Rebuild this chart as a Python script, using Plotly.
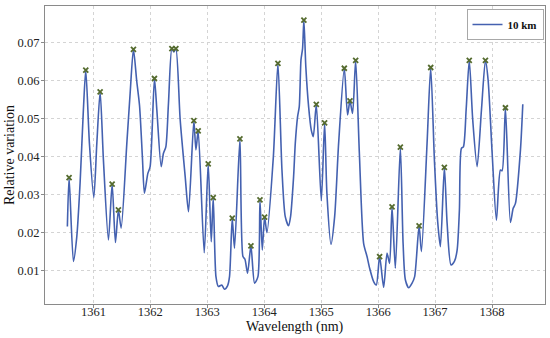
import plotly.graph_objects as go

wavelength = [
    1360.543, 1360.573, 1360.649, 1360.708, 1360.766, 1360.824, 1360.866, 1360.93, 1361.007, 1361.06,
    1361.118, 1361.176, 1361.264, 1361.329, 1361.387, 1361.439, 1361.487, 1361.587, 1361.645, 1361.703,
    1361.76, 1361.81, 1361.86, 1361.896, 1361.956, 1361.996, 1362.072, 1362.114, 1362.19, 1362.23,
    1362.272, 1362.318, 1362.378, 1362.413, 1362.448, 1362.524, 1362.612, 1362.67, 1362.764, 1362.80,
    1362.84, 1362.946, 1363.016, 1363.069, 1363.104, 1363.152, 1363.194, 1363.254, 1363.30, 1363.355,
    1363.39, 1363.438, 1363.478, 1363.573, 1363.626, 1363.661, 1363.707, 1363.766, 1363.83, 1363.889,
    1363.925, 1363.965, 1364.006, 1364.047, 1364.16, 1364.24, 1364.311, 1364.369, 1364.427, 1364.462,
    1364.515, 1364.545, 1364.585, 1364.615, 1364.645, 1364.673, 1364.696, 1364.73, 1364.779, 1364.826,
    1364.861, 1364.914, 1365.002, 1365.06, 1365.10, 1365.172, 1365.236, 1365.306, 1365.406, 1365.463,
    1365.505, 1365.551, 1365.605, 1365.67, 1365.745, 1365.805, 1365.851, 1365.921, 1365.968, 1366.026,
    1366.097, 1366.156, 1366.201, 1366.244, 1366.302, 1366.39, 1366.438, 1366.478, 1366.536, 1366.596,
    1366.641, 1366.719, 1366.76, 1366.859, 1366.923, 1366.988, 1367.045, 1367.093, 1367.163, 1367.211,
    1367.28, 1367.339, 1367.387, 1367.427, 1367.462, 1367.497, 1367.545, 1367.60, 1367.661, 1367.738,
    1367.814, 1367.884, 1367.931, 1368.002, 1368.077, 1368.147, 1368.177, 1368.235, 1368.323, 1368.371,
    1368.411, 1368.499, 1368.54,
]
variation = [
    0.0216, 0.0345, 0.0124, 0.0189, 0.0330, 0.0523, 0.0628, 0.0435, 0.0292, 0.0435,
    0.0571, 0.0391, 0.0181, 0.0328, 0.0174, 0.0260, 0.0212, 0.0435, 0.0567, 0.0683,
    0.0600, 0.0535, 0.0400, 0.0304, 0.0356, 0.0374, 0.0606, 0.0523, 0.0374, 0.0409,
    0.0426, 0.0540, 0.0685, 0.0676, 0.0685, 0.0497, 0.0347, 0.0255, 0.0495, 0.0418,
    0.0468, 0.0147, 0.0381, 0.0176, 0.0292, 0.0084, 0.0058, 0.0062, 0.0051, 0.0060,
    0.0084, 0.0238, 0.0159, 0.0447, 0.0137, 0.0130, 0.0093, 0.0165, 0.0067, 0.0084,
    0.0286, 0.0154, 0.0241, 0.0200, 0.0400, 0.0646, 0.0365, 0.0242, 0.0218, 0.0242,
    0.0347, 0.0435, 0.0505, 0.0532, 0.0655, 0.0685, 0.0760, 0.0637, 0.0532, 0.0470,
    0.0453, 0.0538, 0.0284, 0.0489, 0.0304, 0.0169, 0.0242, 0.0435, 0.0633, 0.0510,
    0.0547, 0.0514, 0.0654, 0.0410, 0.0172, 0.0137, 0.0106, 0.0071, 0.0062, 0.0137,
    0.0056, 0.0146, 0.0119, 0.0268, 0.0106, 0.0425, 0.0172, 0.0076, 0.0055, 0.0067,
    0.0084, 0.0218, 0.0150, 0.0435, 0.0635, 0.0391, 0.0230, 0.0163, 0.0372, 0.0225,
    0.0115, 0.0124, 0.0154, 0.0260, 0.0422, 0.0426, 0.0523, 0.0654, 0.0497, 0.0374,
    0.0523, 0.0654, 0.0602, 0.0409, 0.0233, 0.0365, 0.0363, 0.0529, 0.0227, 0.0264,
    0.0277, 0.0418, 0.0538,
]

peak_wavelength = [
    1360.573, 1360.866, 1361.118, 1361.329, 1361.439, 1361.703, 1362.072, 1362.378, 1362.448, 1362.764,
    1362.84, 1363.016, 1363.104, 1363.438, 1363.573, 1363.766, 1363.925, 1364.006, 1364.24, 1364.696,
    1364.914, 1365.06, 1365.406, 1365.505, 1365.605, 1366.026, 1366.244, 1366.39, 1366.719, 1366.923,
    1367.163, 1367.60, 1367.884, 1368.235,
]
peak_variation = [
    0.0345, 0.0628, 0.0571, 0.0328, 0.0260, 0.0683, 0.0606, 0.0685, 0.0685, 0.0495,
    0.0468, 0.0381, 0.0292, 0.0238, 0.0447, 0.0165, 0.0286, 0.0241, 0.0646, 0.0760,
    0.0538, 0.0489, 0.0633, 0.0547, 0.0654, 0.0137, 0.0268, 0.0425, 0.0218, 0.0635,
    0.0372, 0.0654, 0.0654, 0.0529,
]

x_ticks = [1361, 1362, 1363, 1364, 1365, 1366, 1367, 1368]
y_ticks = [0.01, 0.02, 0.03, 0.04, 0.05, 0.06, 0.07]
series_name = "10 km"
x_title = "Wavelength (nm)"
y_title = "Relative variation"

FONT = "'Liberation Serif', 'DejaVu Serif', 'Times New Roman', serif"

fig = go.Figure()
fig.add_trace(go.Scatter(
    x=wavelength, y=variation, mode="lines", name=series_name,
    line=dict(color="#4461b0", width=1.6, shape="spline", smoothing=0.7),
))
fig.add_trace(go.Scatter(
    x=peak_wavelength, y=peak_variation, mode="markers", showlegend=False,
    marker=dict(symbol="x-thin", size=5, color="#556b2f",
                line=dict(color="#556b2f", width=1.8)),
))

axis_common = dict(
    showline=True, linecolor="#8a8a8a", linewidth=1.2, mirror=True,
    showgrid=True, gridcolor="#d4d4d4", griddash="dot", gridwidth=1,
    ticks="outside", ticklen=3, tickcolor="#8a8a8a",
    tickfont=dict(family=FONT, size=12.5, color="#222"),
    zeroline=False, automargin=False,
)
fig.update_xaxes(**axis_common, range=[1360.15, 1368.93], tickvals=x_ticks,
                 ticklabelstandoff=-7)
fig.update_yaxes(**axis_common, range=[0.0012, 0.0797], tickvals=y_ticks, tickformat=".2f",
                 ticklabelstandoff=-1)

fig.add_annotation(text=x_title, xref="paper", yref="paper", x=0.5, y=-0.077,
                   xanchor="center", yanchor="middle", showarrow=False,
                   font=dict(family=FONT, size=14, color="#111"))
fig.add_annotation(text=y_title, xref="paper", yref="paper", x=-0.072, y=0.5,
                   xanchor="center", yanchor="middle", showarrow=False, textangle=-90,
                   font=dict(family=FONT, size=14, color="#111"))

fig.update_layout(
    width=550, height=338,
    margin=dict(l=45, r=5, t=6, b=34),
    paper_bgcolor="white", plot_bgcolor="white",
    font=dict(family=FONT),
    legend=dict(x=0.997, y=0.99, xanchor="right", yanchor="top",
                bgcolor="white", bordercolor="#a8a8a8", borderwidth=1,
                font=dict(family=FONT, size=11, color="#111", weight="bold"),
                itemwidth=30, tracegroupgap=0),
)

fig.write_html("out.html", config={"displayModeBar": False},
               post_script="document.body.style.margin='0px';")
